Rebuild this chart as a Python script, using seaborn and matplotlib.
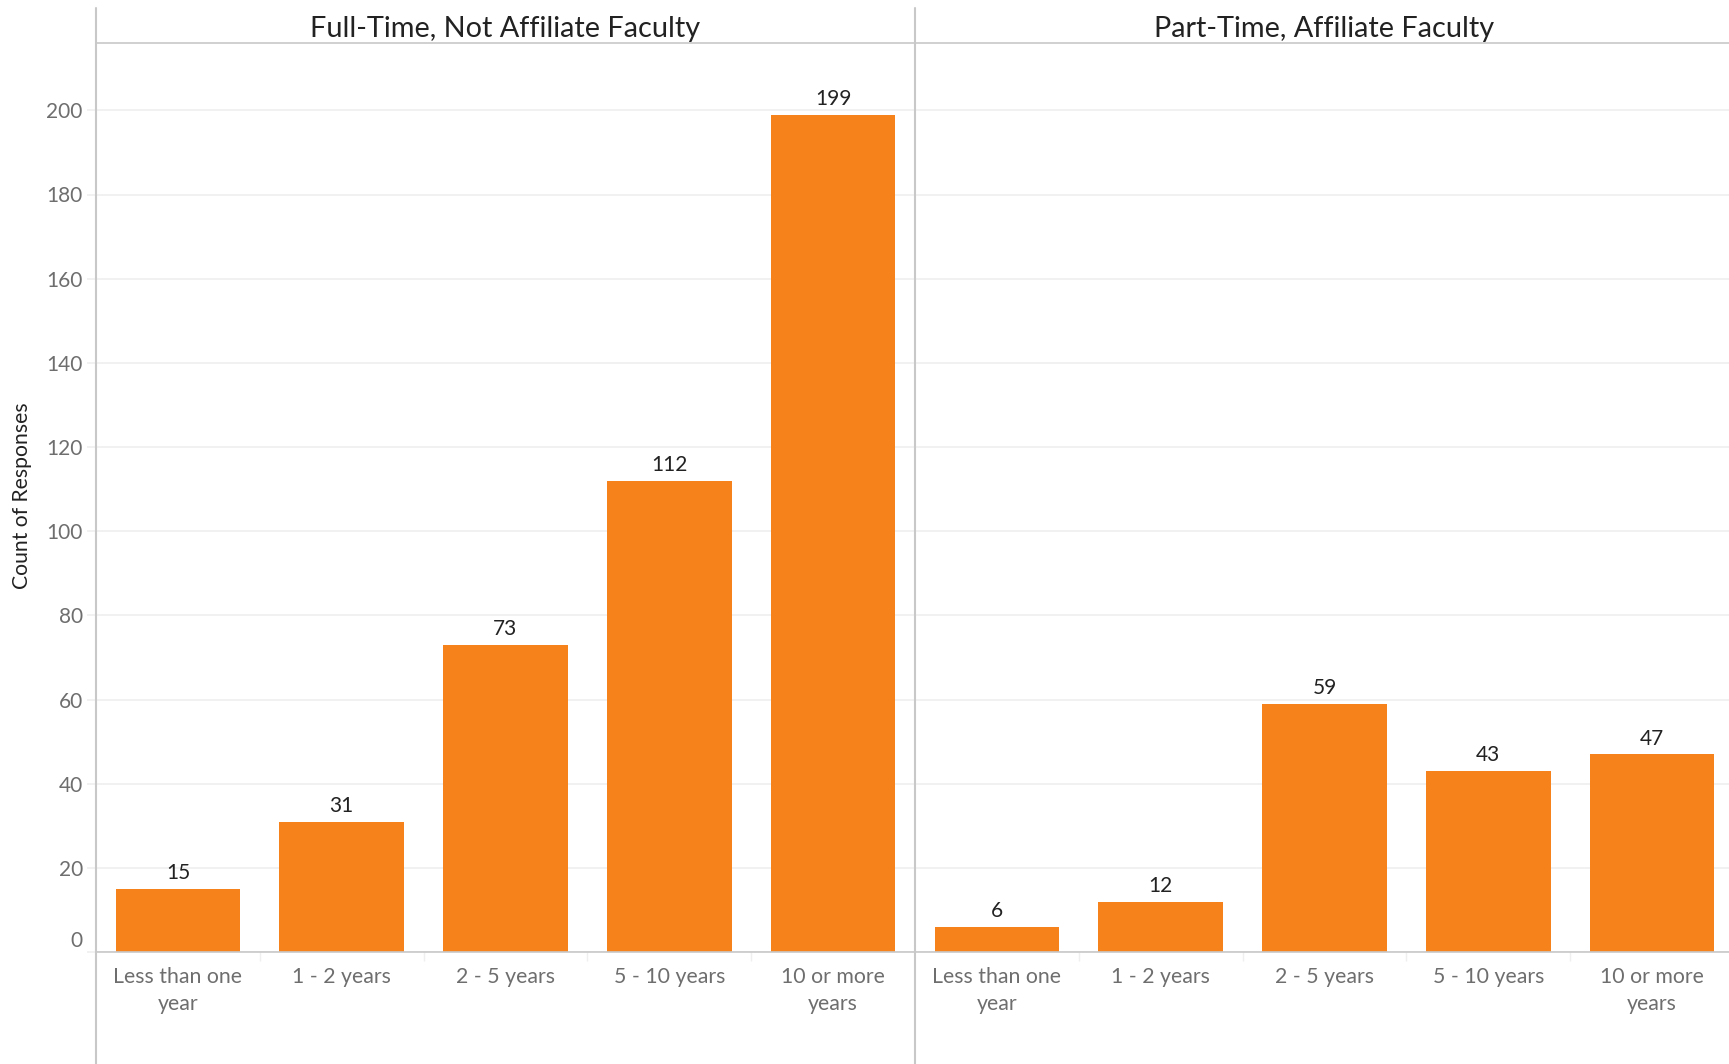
import matplotlib
matplotlib.use("Agg")
import matplotlib.pyplot as plt
from matplotlib.lines import Line2D
from matplotlib.transforms import ScaledTranslation
import numpy as np
import pandas as pd
import seaborn as sns

# Survey: years of service by faculty type
tenure = ["Less than one\nyear", "1 - 2 years", "2 - 5 years", "5 - 10 years", "10 or more\nyears"]
full_time_counts = [15, 31, 73, 112, 199]
part_time_counts = [6, 12, 59, 43, 47]
panel_titles = ["Full-Time, Not Affiliate Faculty", "Part-Time, Affiliate Faculty"]
y_ticks = list(range(0, 201, 20))

df = pd.DataFrame({
    "panel": [panel_titles[0]] * len(tenure) + [panel_titles[1]] * len(tenure),
    "tenure": tenure * 2,
    "count": full_time_counts + part_time_counts,
})

sns.set_theme(style="white")
plt.rcParams["font.family"] = ["Lato", "DejaVu Sans"]

BAR = "#F5821A"
AXIS = "#C8C8C8"
GRID = "#EFEFEF"
TICK_TXT = "#6E6E6E"

W, H = 1729, 1064
fig = plt.figure(figsize=(W / 100, H / 100), dpi=100)

def fx(px):
    return px / W

def fy(px):
    return 1 - px / H

left_x, mid_x = 96, 915
panel_w = mid_x - left_x
top_y, base_y = 43, 952
axes = [
    fig.add_axes([fx(left_x), fy(base_y), fx(panel_w), fy(top_y) - fy(base_y)]),
    fig.add_axes([fx(mid_x), fy(base_y), fx(panel_w), fy(top_y) - fy(base_y)]),
]

for i, (ax, title) in enumerate(zip(axes, panel_titles)):
    sub = df[df["panel"] == title]
    sns.barplot(data=sub, x="tenure", y="count", color=BAR, saturation=1,
                width=0.76, ax=ax, order=tenure, linewidth=0)
    ax.set_xlim(-0.5, len(tenure) - 0.5)
    ax.set_ylim(0, 216)
    ax.set_xlabel("")
    ax.set_ylabel("")
    ax.set_yticks(y_ticks)
    ax.grid(axis="y", color=GRID, linewidth=1.2)
    ax.grid(axis="x", visible=False)
    ax.set_axisbelow(True)
    for side in ["top", "right", "left"]:
        ax.spines[side].set_visible(False)
    ax.spines["bottom"].set_color(AXIS)
    ax.spines["bottom"].set_linewidth(1.2)

    # category separators below the baseline
    ax.set_xticks(np.arange(0.5, len(tenure) - 1, 1.0), minor=True)
    ax.tick_params(axis="x", which="minor", length=6.5, width=1, color=GRID, bottom=True)
    ax.tick_params(axis="x", which="major", length=0, pad=11, labelsize=15.3,
                   labelcolor=TICK_TXT)
    for lab in ax.get_xticklabels():
        lab.set_linespacing(1.45)

    if i == 0:
        ax.tick_params(axis="y", which="major", length=6.5, width=1.2, color=GRID,
                       pad=3, labelsize=15, labelcolor=TICK_TXT, left=True)
    else:
        ax.tick_params(axis="y", left=False, labelleft=False)

    for cont in ax.containers:
        ax.bar_label(cont, fmt="%d", padding=4, fontsize=15, color="#222222")

    # panel header
    cx = left_x + panel_w / 2 + i * panel_w
    fig.text(fx(cx), fy(29), title, ha="center", va="center", fontsize=20.8,
             color="#222222")

# lift the zero label above the baseline
zero_lab = axes[0].yaxis.get_major_ticks()[0].label1
zero_lab.set_transform(zero_lab.get_transform() +
                       ScaledTranslation(0, 0.13, fig.dpi_scale_trans))

# frame lines: panel dividers and header rule
for x in (left_x, mid_x):
    fig.add_artist(Line2D([fx(x), fx(x)], [fy(8), 0], color=AXIS, lw=1.5,
                          transform=fig.transFigure))
fig.add_artist(Line2D([fx(left_x), 1], [fy(top_y), fy(top_y)], color=AXIS, lw=1.2,
                      transform=fig.transFigure))

fig.text(fx(22), fy(496), "Count of Responses", rotation=90, ha="center",
         va="center", fontsize=15.2, color="#222222")

fig.savefig("out.png", dpi=100)
